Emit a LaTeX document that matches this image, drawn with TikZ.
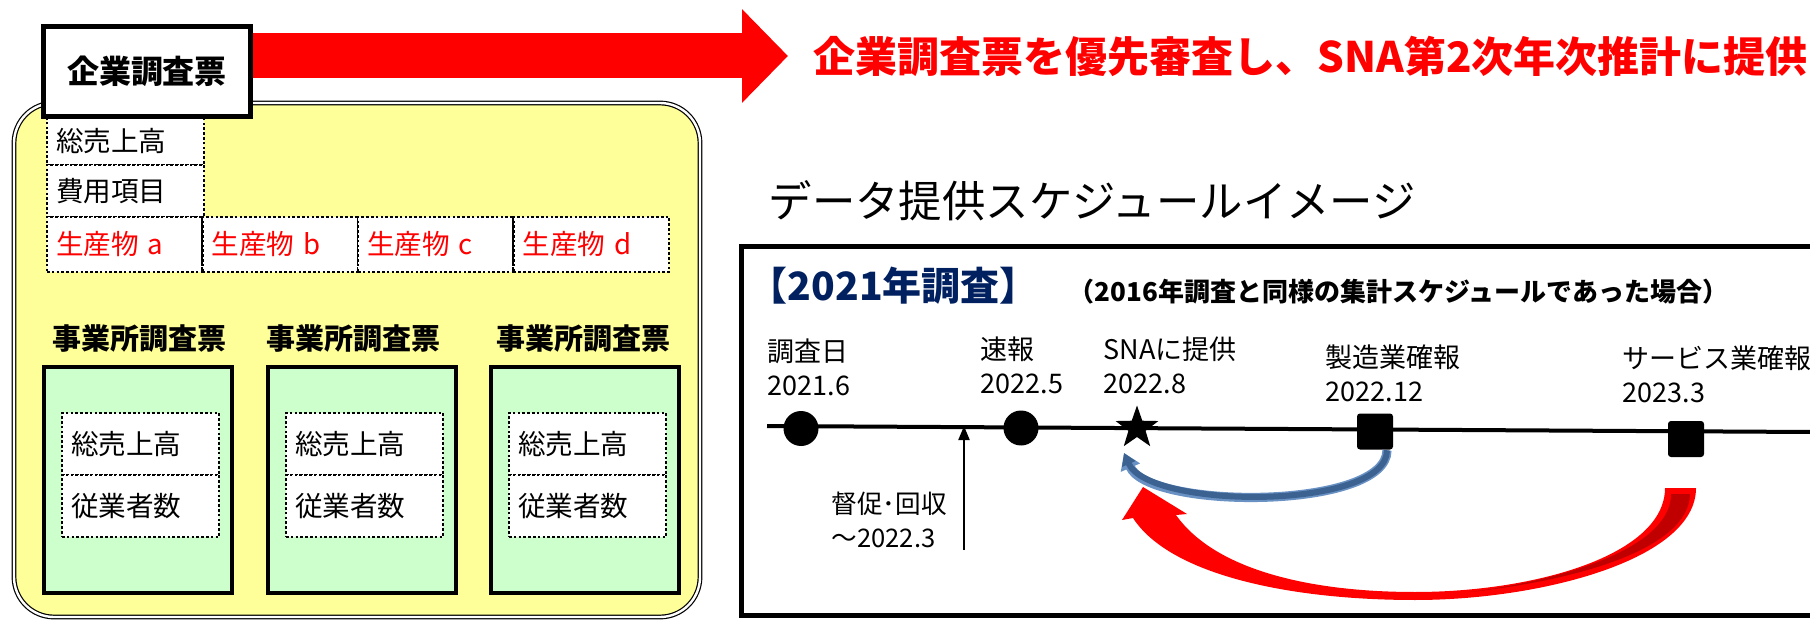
\documentclass[tikz,border=0pt]{standalone}
\usepackage{fontspec}
\setmainfont{Noto Sans CJK JP}
\usetikzlibrary{positioning,calc,shapes.geometric,arrows.meta}

\definecolor{cardyellow}{RGB}{255,255,153}
\definecolor{cardgreen}{RGB}{204,255,204}
\definecolor{yearblue}{RGB}{0,32,96}
\definecolor{loopblue}{RGB}{60,98,146}
\definecolor{loopedge}{RGB}{105,145,195}
\definecolor{shadered}{RGB}{192,0,0}

\tikzset{every picture/.style={line width=0.75pt},
  sheet/.style={draw, fill=white, line width=2.5pt, minimum width=103.5pt, minimum height=45pt, font=\fontsize{16}{19}\selectfont\bfseries},
  item/.style={draw, fill=white, line width=1.4pt, dash pattern=on 1.3pt off 1.1pt, outer sep=0pt, inner xsep=4.5pt, text width=69.5pt, align=left, font=\fontsize{13.8}{16}\selectfont},
  estbox/.style={draw, fill=cardgreen, line width=2pt, minimum width=94pt, minimum height=113pt},
  estlabel/.style={font=\fontsize{14.5}{17}\selectfont\bfseries},
  datelabel/.style={anchor=west, align=left, inner sep=0pt, font=\fontsize{13.5}{17}\selectfont},
  dotmark/.style={circle, fill, inner sep=0pt, minimum size=17.5pt},
  sqmark/.style={fill, rounded corners=1.5pt, inner sep=0pt, minimum size=18pt}
}

\begin{document}
\begin{tikzpicture}[x=0.5pt,y=0.5pt,yscale=-1,xscale=1]
	\useasboundingbox (0,0) rectangle (1810,620);
	\clip (0,0) rectangle (1810,620);

	%Shape: Rounded Rectangle
	\draw [fill=cardyellow, double=white, double distance=1.2pt, line width=0.6pt, rounded corners=20pt] (14,103) rectangle (700,617);

	% Text Node
	\node [item, minimum height=23.5pt] (sales) at (125.5,141.5) {総売上高};
	\node [item, minimum height=26pt, below=0pt of sales] (costs) {費用項目};
	\node [item, text=red, text width=68.75pt, minimum height=27.5pt, anchor=north west] (prodA) at (costs.south west) {生産物 a};
	\node [item, text=red, text width=68.75pt, minimum height=27.5pt, right=0pt of prodA] (prodB) {生産物 b};
	\node [item, text=red, text width=68.75pt, minimum height=27.5pt, right=0pt of prodB] (prodC) {生産物 c};
	\node [item, text=red, text width=68.75pt, minimum height=27.5pt, right=0pt of prodC] (prodD) {生産物 d};

	%Shape: Rectangle
	\node [sheet] (card) at (147,71.5) {企業調査票};

	% Text Node
	\node [anchor=west, inner sep=0pt, text=red, font=\fontsize{21}{25}\selectfont\bfseries] (headline) at (813,56) {企業調査票を優先審査し、SNA第2次年次推計に提供};
	%Straight Lines
	\draw [red, line width=22.5pt, -{Triangle[length=23pt,width=45.5pt]}] (card.east |- headline.west) -- ([xshift=-12.5pt]headline.west);

	\foreach \i/\cx/\lx in {1/138/140, 2/362/353, 3/585/583}{
		\node [estbox] (est\i) at (\cx,480) {};
		\node [estlabel] (estlab\i) at (\lx,339) {事業所調査票};
		\node [item, minimum height=31pt] (estsales\i) at (\cx+2.5,444) {総売上高};
		\node [item, minimum height=31pt, below=0pt of estsales\i] (eststaff\i) {従業者数};
	}

	% Text Node
	\node [anchor=west, inner sep=0pt, font=\fontsize{21.7}{25}\selectfont] (schedtitle) at (768,201) {データ提供スケジュールイメージ};
	%Shape: Rectangle
	\draw [line width=2.5pt] (741,247) rectangle (1840,615);
	% Text Node
	\node [anchor=west, inner sep=0pt, text=yearblue, font=\fontsize{19.5}{23}\selectfont\bfseries] (yearhead) at (748,286) {【2021年調査】};
	% Text Node
	\node [anchor=west, inner sep=0pt, font=\fontsize{13}{15}\selectfont\bfseries] (yearnote) at (1068,292) {（2016年調査と同様の集計スケジュールであった場合）};

	%Straight Lines
	\draw [line width=2pt] (767,426) coordinate (tlstart) -- (1810,432) coordinate (tlend);

	\node [dotmark] (survey) at (801,428.5) {};
	\node [dotmark] (prelim) at (1021,428) {};
	\node [star, star points=5, star point ratio=2.5, fill, inner sep=0pt, minimum size=22.5pt] (sna) at (1137,428) {};
	\node [sqmark] (mfg) at (1375,431.5) {};
	\node [sqmark] (svc) at (1686,439) {};

	% Text Node
	\node [datelabel] (lsurvey) at (767,367) {調査日\\2021.6};
	\node [datelabel] (lprelim) at (980,365) {速報\\2022.5};
	\node [datelabel] (lsna) at (1103,365) {SNAに提供\\2022.8};
	\node [datelabel] (lmfg) at (1325,373) {製造業確報\\2022.12};
	\node [datelabel] (lsvc) at (1622,374) {サービス業確報\\2023.3};

	%Straight Lines
	\coordinate (dunfoot) at (964,550);
	\draw [line width=1pt, -{Triangle[length=7pt,width=5.5pt]}] (dunfoot) -- (dunfoot |- tlstart);
	% Text Node
	\node [datelabel, font=\fontsize{12.8}{17}\selectfont] (dun) at (831,520) {督促･回収\\～2022.3};

	%Curve Lines
	\draw [loopedge, line width=4.6pt, -{Triangle[length=8pt,width=10pt]}] ([xshift=6pt]mfg.south) .. controls +(0,60) and +(25,57) .. ($(sna)+(-13,25)$);
	\draw [loopblue, line width=3pt, -{Triangle[length=6pt,width=7pt]}] ([xshift=6pt]mfg.south) .. controls +(0,60) and +(25,57) .. ($(sna)+(-13,25)$);

	%Shape: Curved Arrow
	\fill [red] (1696,488) .. controls (1696,560) and (1540,600) .. (1415,600) .. controls (1290,600) and (1170,575) .. (1133,518) -- (1122,520) -- (1143,487) -- (1187,514) -- (1176,515) .. controls (1215,570) and (1310,592) .. (1415,592) .. controls (1535,592) and (1665,555) .. (1665,488) -- cycle;
	\fill [shadered] (1671,494) -- (1690,494) .. controls (1689,548) and (1580,580) .. (1470,592) .. controls (1575,578) and (1671,545) .. (1671,494) -- cycle;

\end{tikzpicture}
\end{document}
